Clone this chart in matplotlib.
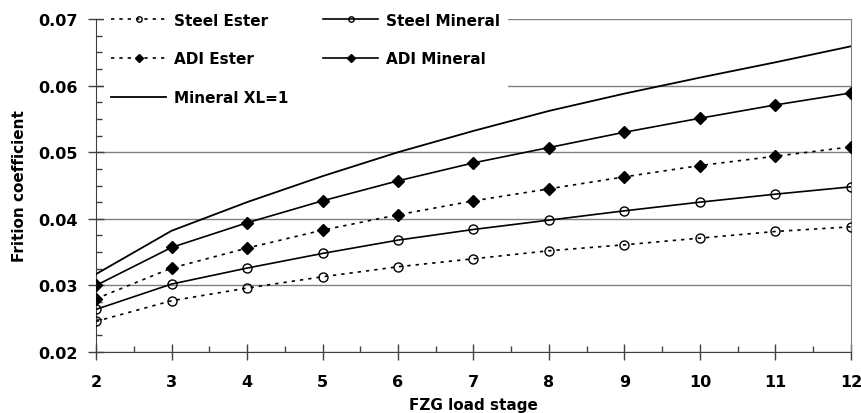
import matplotlib.pyplot as plt
import numpy as np

# FZG load stages
stage = [2, 3, 4, 5, 6, 7, 8, 9, 10, 11, 12]

# friction coefficients
steel_ester = [0.0246, 0.0277, 0.0296, 0.0313, 0.0328, 0.0340, 0.0352, 0.0361, 0.0371, 0.0381, 0.0388]
steel_mineral = [0.0264, 0.0302, 0.0326, 0.0348, 0.0368, 0.0384, 0.0398, 0.0412, 0.0425, 0.0437, 0.0448]
adi_ester = [0.0280, 0.0326, 0.0356, 0.0383, 0.0406, 0.0427, 0.0445, 0.0463, 0.0480, 0.0494, 0.0508]
adi_mineral = [0.0300, 0.0357, 0.0394, 0.0427, 0.0457, 0.0484, 0.0507, 0.0530, 0.0551, 0.0571, 0.0589]
mineral_xl = [0.0317, 0.0382, 0.0425, 0.0464, 0.0500, 0.0532, 0.0562, 0.0588, 0.0612, 0.0635, 0.0659]

plt.rcParams['font.family'] = 'DejaVu Sans'
plt.rcParams['font.weight'] = 'bold'

fig = plt.figure(figsize=(8.62, 4.14), dpi=100)
ax = fig.add_axes([0.1114, 0.1473, 0.8758, 0.8044])

dots = (0, (2, 3))
l1, = ax.plot(stage, steel_ester, color='black', lw=1.2, ls=dots, marker='o', ms=6.5,
              mfc='none', mec='black', mew=1, label='Steel Ester', zorder=3)
l2, = ax.plot(stage, steel_mineral, color='black', lw=1.2, marker='o', ms=6.5,
              mfc='none', mec='black', mew=1, label='Steel Mineral', zorder=3)
l3, = ax.plot(stage, adi_ester, color='black', lw=1.2, ls=dots, marker='D', ms=6.5,
              label='ADI Ester', zorder=3)
l4, = ax.plot(stage, adi_mineral, color='black', lw=1.2, marker='D', ms=6.5,
              label='ADI Mineral', zorder=3)
l5, = ax.plot(stage, mineral_xl, color='black', lw=1.3, label='Mineral XL=1', zorder=3)

ax.set_xlim(2, 12)
ax.set_ylim(0.02, 0.07)
ax.set_xticks(np.arange(2, 13, 1))
ax.set_xticks(np.arange(2.5, 12, 1), minor=True)
ax.set_yticks([0.02, 0.03, 0.04, 0.05, 0.06, 0.07])
ax.set_yticks(np.arange(0.02, 0.07, 0.0025), minor=True)
ax.set_yticklabels(['0.02', '0.03', '0.04', '0.05', '0.06', '0.07'])

ax.grid(axis='y', which='major', color='#808080', lw=1)
ax.set_axisbelow(True)
ax.tick_params(which='major', direction='inout', length=11, width=1, color='#404040',
               labelsize=11.5)
ax.tick_params(which='minor', direction='in', length=4, width=1, color='#404040')
ax.tick_params(axis='y', pad=8)
ax.tick_params(axis='x', pad=10)

ax.spines['top'].set_visible(False)
ax.spines['right'].set_color('#808080')
ax.spines['left'].set_color('#404040')
ax.spines['bottom'].set_color('#404040')

ax.set_xlabel('FZG load stage', fontsize=11, fontweight='bold', labelpad=6)
ax.set_ylabel('Frition coefficient', fontsize=11, fontweight='bold', labelpad=8)

# column-wise fill: left column first, then right column
leg = ax.legend([l1, l3, l5, l2, l4],
                ['Steel Ester', 'ADI Ester', 'Mineral XL=1', 'Steel Mineral', 'ADI Mineral'],
                loc='upper left', bbox_to_anchor=(0.0, 1.065), ncol=2, fontsize=11,
                frameon=True, framealpha=1, edgecolor='none', facecolor='white',
                handlelength=3.6, handletextpad=0.5, columnspacing=2.3,
                labelspacing=1.55, markerscale=0.6, borderpad=0.5)
leg.get_frame().set_boxstyle('square', pad=0)

fig.savefig('out.png', dpi=100)
